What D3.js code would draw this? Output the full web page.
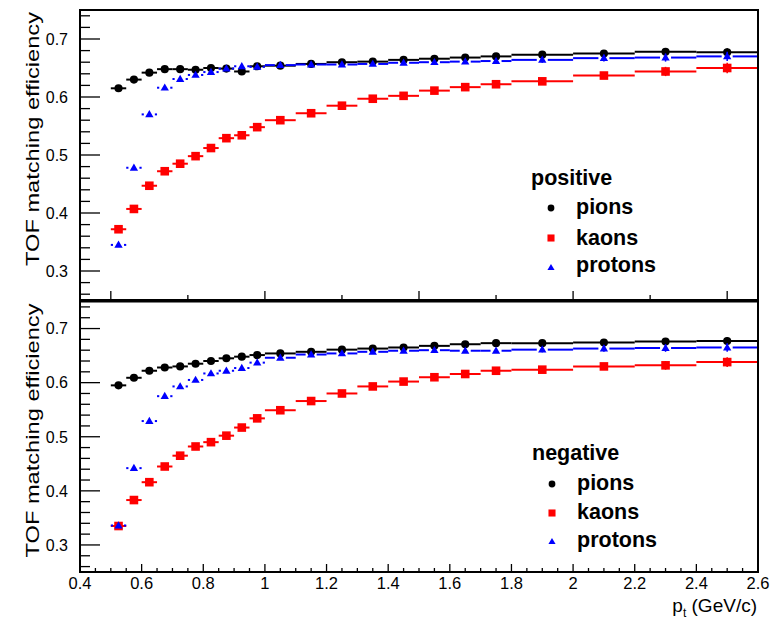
<!DOCTYPE html>
<html>
<head>
<meta charset="utf-8">
<script src="https://cdn.jsdelivr.net/npm/d3@7"></script>
<style>
  html, body { margin: 0; padding: 0; background: #fff; }
  text { font-family: "Liberation Sans", Arial, Helvetica, sans-serif; }
</style>
</head>
<body>
<svg id="chart" width="774" height="625"></svg>
<script>
// ---------------- data ----------------
const binEdges = [0.5, 0.55, 0.6, 0.65, 0.7, 0.75, 0.8, 0.85, 0.9, 0.95, 1.0,
                  1.1, 1.2, 1.3, 1.4, 1.5, 1.6, 1.7, 1.8, 2.0, 2.2, 2.4, 2.6];

const posPions   = [0.615,0.630,0.642,0.648,0.648,0.647,0.650,0.649,0.644,0.653,0.654,0.657,0.660,0.661,0.664,0.666,0.668,0.670,0.673,0.675,0.678,0.677];
const posKaons   = [0.372,0.407,0.447,0.472,0.485,0.498,0.512,0.529,0.534,0.548,0.560,0.572,0.585,0.597,0.602,0.611,0.617,0.622,0.627,0.637,0.644,0.650];
const posProtons = [0.345,0.478,0.570,0.616,0.631,0.638,0.643,0.649,0.653,0.652,0.655,0.656,0.656,0.657,0.659,0.660,0.661,0.662,0.664,0.667,0.668,0.670];

const negPions   = [0.595,0.609,0.622,0.628,0.630,0.635,0.640,0.645,0.648,0.651,0.654,0.657,0.661,0.663,0.665,0.668,0.671,0.673,0.673,0.674,0.676,0.677];
const negKaons   = [0.335,0.383,0.416,0.445,0.465,0.482,0.490,0.502,0.517,0.534,0.549,0.566,0.580,0.593,0.602,0.610,0.616,0.622,0.624,0.630,0.632,0.638];
const negProtons = [0.336,0.442,0.529,0.575,0.593,0.605,0.617,0.622,0.627,0.637,0.646,0.652,0.654,0.657,0.659,0.660,0.659,0.659,0.661,0.663,0.664,0.665];

// small statistical errors (only visible in the last bins)
const errPions   = [0.002,0.002,0.002,0.002,0.002,0.002,0.002,0.002,0.002,0.002,0.002,0.002,0.002,0.002,0.002,0.003,0.003,0.003,0.004,0.005,0.006,0.007];
const errKaons   = [0.003,0.003,0.003,0.003,0.003,0.003,0.003,0.003,0.003,0.003,0.003,0.003,0.003,0.003,0.004,0.004,0.004,0.004,0.005,0.006,0.008,0.009];
const errProtons = [0.003,0.003,0.003,0.003,0.003,0.003,0.003,0.003,0.003,0.003,0.003,0.003,0.003,0.003,0.003,0.003,0.004,0.004,0.005,0.006,0.007,0.008];

const yTickLabels = [0.3, 0.4, 0.5, 0.6, 0.7];
const xTickLabels = [0.4, 0.6, 0.8, 1.0, 1.2, 1.4, 1.6, 1.8, 2.0, 2.2, 2.4, 2.6];
const speciesNames = ["pions", "kaons", "protons"];
const panelTitles = ["positive", "negative"];

// ---------------- layout ----------------
const svg = d3.select("#chart");
const X0 = 80, X1 = 758;
const x = d3.scaleLinear().domain([0.4, 2.6]).range([X0, X1]);

const panels = [
  { top: 10,  bottom: 300, series: [posPions, posKaons, posProtons], title: panelTitles[0],
    legend: { tx: 531, ty: 185, mx: 551, rows: [208, 238, 268], lx: 576, lb: [214, 245, 272] } },
  { top: 301.5, bottom: 572, series: [negPions, negKaons, negProtons], title: panelTitles[1],
    legend: { tx: 532, ty: 460, mx: 552, rows: [484, 513, 542], lx: 577, lb: [490, 519, 547] } }
];
const errs = [errPions, errKaons, errProtons];
const colors = ["#000000", "#ff0000", "#0000ff"];
const shapes = [d3.symbolCircle, d3.symbolSquare, d3.symbolTriangle];
const dataSizes = [52, 74, 30];
const legendSizes = [36, 50, 22];
const gaps = [0, 0, 5.5];

const centers = binEdges.slice(0, -1).map((e, i) => (e + binEdges[i + 1]) / 2);

panels.forEach((p, pi) => {
  const y = d3.scaleLinear().domain([0.25, 0.75]).range([p.bottom, p.top]);
  const g = svg.append("g");

  // y ticks (left, inside)
  const yMinor = d3.range(0.26, 0.7401, 0.02);
  g.selectAll(".ymin").data(yMinor).enter().append("line")
    .attr("x1", X0).attr("x2", d => (Math.abs(d * 10 - Math.round(d * 10)) < 1e-6) ? X0 + 20 : X0 + 10)
    .attr("y1", d => y(d)).attr("y2", d => y(d))
    .attr("stroke", "#000").attr("stroke-width", 1.3);

  g.selectAll(".ylab").data(yTickLabels).enter().append("text")
    .attr("x", 68).attr("y", d => y(d)).attr("dy", "0.36em")
    .attr("text-anchor", "end").attr("font-size", 16)
    .text(d => d3.format(".1f")(d));

  // x ticks
  if (pi === 0) {
    const t = d3.range(0.5, 2.5001, 0.25);
    g.selectAll(".xt").data(t).enter().append("line")
      .attr("x1", d => x(d)).attr("x2", d => x(d))
      .attr("y1", p.bottom).attr("y2", d => (Math.abs(d * 2 - Math.round(d * 2)) < 1e-6) ? p.bottom - 9 : p.bottom - 5)
      .attr("stroke", "#000").attr("stroke-width", 1.3);
  } else {
    const t = d3.range(0.45, 2.5501, 0.05);
    g.selectAll(".xt").data(t).enter().append("line")
      .attr("x1", d => x(d)).attr("x2", d => x(d))
      .attr("y1", p.bottom).attr("y2", d => (Math.abs(d * 5 - Math.round(d * 5)) < 1e-6) ? p.bottom - 8 : p.bottom - 4)
      .attr("stroke", "#000").attr("stroke-width", 1.3);
    g.selectAll(".xl").data(xTickLabels).enter().append("text")
      .attr("x", d => x(d)).attr("y", 589)
      .attr("text-anchor", "middle").attr("font-size", 16.5)
      .text(d => d3.format("~g")(d));
  }

  // y title
  g.append("text")
    .attr("transform", `translate(38.5,${p.top + 2}) rotate(-90)`)
    .attr("text-anchor", "end").attr("font-size", 19)
    .attr("textLength", 254).attr("lengthAdjust", "spacingAndGlyphs")
    .text("TOF matching efficiency");

  // data
  p.series.forEach((vals, si) => {
    const sg = g.append("g");
    const col = colors[si];
    vals.forEach((v, i) => {
      const cx = x(centers[i]), cy = y(v);
      const xl = x(binEdges[i]), xr = x(binEdges[i + 1]);
      const gap = gaps[si];
      if (gap > 0) {
        sg.append("line").attr("x1", xl).attr("x2", cx - gap).attr("y1", cy).attr("y2", cy)
          .attr("stroke", col).attr("stroke-width", 2);
        sg.append("line").attr("x1", cx + gap).attr("x2", xr).attr("y1", cy).attr("y2", cy)
          .attr("stroke", col).attr("stroke-width", 2);
      } else {
        sg.append("line").attr("x1", xl).attr("x2", xr).attr("y1", cy).attr("y2", cy)
          .attr("stroke", col).attr("stroke-width", 2);
      }
      sg.append("line").attr("x1", cx).attr("x2", cx)
        .attr("y1", y(v - errs[si][i])).attr("y2", y(v + errs[si][i]))
        .attr("stroke", col).attr("stroke-width", 1.5);
      sg.append("path")
        .attr("d", d3.symbol().type(shapes[si]).size(dataSizes[si])())
        .attr("transform", `translate(${cx},${cy + (si === 2 ? 0.5 : 0)})`)
        .attr("fill", col);
    });
  });

  // frame
  g.append("rect").attr("x", X0).attr("y", p.top).attr("width", X1 - X0).attr("height", p.bottom - p.top)
    .attr("fill", "none").attr("stroke", "#000").attr("stroke-width", 2);

  // legend
  const L = p.legend;
  g.append("text").attr("x", L.tx).attr("y", L.ty).attr("font-size", 21.5).attr("font-weight", "bold")
    .text(p.title);
  speciesNames.forEach((n, si) => {
    g.append("path")
      .attr("d", d3.symbol().type(shapes[si]).size(legendSizes[si])())
      .attr("transform", `translate(${L.mx},${L.rows[si]})`)
      .attr("fill", colors[si]);
    g.append("text").attr("x", L.lx).attr("y", L.lb[si]).attr("font-size", 21.5).attr("font-weight", "bold")
      .text(n);
  });
});

// x title
const xt = svg.append("text").attr("x", 757).attr("y", 612).attr("text-anchor", "end").attr("font-size", 19);
xt.append("tspan").text("p");
xt.append("tspan").attr("font-size", 12).attr("dy", 5).text("t");
xt.append("tspan").attr("dy", -5).text(" (GeV/c)");
</script>
</body>
</html>
